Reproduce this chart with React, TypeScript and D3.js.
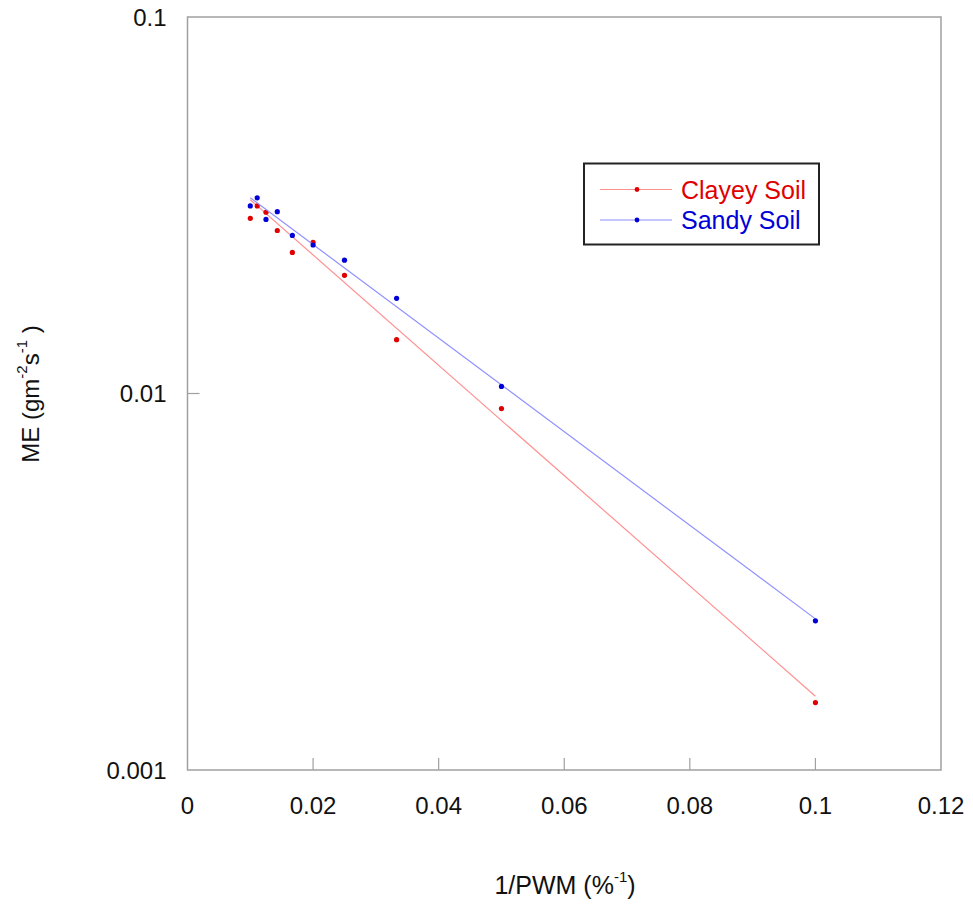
import React from "react";
import * as d3 from "d3";

const pwmInv = [0.01, 0.0111, 0.0125, 0.0143, 0.0167, 0.02, 0.025, 0.0333, 0.05, 0.1];
const clayey = [0.0292, 0.0315, 0.0303, 0.0271, 0.0237, 0.0252, 0.0206, 0.0139, 0.00912, 0.00151];
const sandy = [0.0315, 0.0331, 0.029, 0.0304, 0.0263, 0.0248, 0.0226, 0.0179, 0.01044, 0.00249];
const trendX = [0.01, 0.1];
const clayeyTrend = [0.0327, 0.00157];
const sandyTrend = [0.0331, 0.00252];
const xTicks = [0, 0.02, 0.04, 0.06, 0.08, 0.1, 0.12];
const xTickLabels = ["0", "0.02", "0.04", "0.06", "0.08", "0.1", "0.12"];
const yTicks = [0.001, 0.01, 0.1];
const yTickLabels = ["0.001", "0.01", "0.1"];
const seriesNames = ["Clayey Soil", "Sandy Soil"];

const W = 973, H = 907;
const L = 187.5, R = 941, T = 17, B = 770;
const font = "Arial, 'Liberation Sans', Helvetica, sans-serif";

export default function App() {
  const x = d3.scaleLinear().domain([0, 0.12]).range([L, R]);
  const y = d3.scaleLog().domain([0.001, 0.1]).range([B, T]);
  const line = d3.line<[number, number]>().x(d => x(d[0])).y(d => y(d[1]));
  const series = [
    { name: seriesNames[0], vals: clayey, trend: clayeyTrend, dot: "#e00000", ln: "#ff9090" },
    { name: seriesNames[1], vals: sandy, trend: sandyTrend, dot: "#0000d8", ln: "#9090ff" },
  ];
  const axisColor = "#a0a0a0";
  return (
    <svg width={W} height={H} style={{ position: "absolute", left: 0, top: 0, background: "#fff" }} fontFamily={font}>
      <rect x={L} y={T} width={R - L} height={B - T} fill="none" stroke={axisColor} strokeWidth={1.5} />
      {xTicks.map((t, i) => (
        <g key={"xt" + i}>
          {i > 0 && i < xTicks.length - 1 && (
            <line x1={x(t)} x2={x(t)} y1={B} y2={B - 12} stroke={axisColor} strokeWidth={1.2} />
          )}
          <text x={x(t)} y={805} textAnchor="middle" dominantBaseline="central" fontSize={24} fill="#111">
            {xTickLabels[i]}
          </text>
        </g>
      ))}
      {yTicks.map((t, i) => (
        <g key={"yt" + i}>
          {i > 0 && i < yTicks.length - 1 && (
            <line x1={L} x2={L + 12} y1={y(t)} y2={y(t)} stroke={axisColor} strokeWidth={1.2} />
          )}
          <text x={166.5} y={y(t)} textAnchor="end" dominantBaseline="central" fontSize={24} fill="#111">
            {yTickLabels[i]}
          </text>
        </g>
      ))}
      {series.map((s, si) => (
        <g key={"s" + si}>
          <path
            d={line(trendX.map((v, i) => [v, s.trend[i]] as [number, number])) || ""}
            fill="none"
            stroke={s.ln}
            strokeWidth={1.2}
          />
          {pwmInv.map((v, i) => (
            <circle key={i} cx={x(v)} cy={y(s.vals[i])} r={2.6} fill={s.dot} />
          ))}
        </g>
      ))}
      <rect x={584} y={163.5} width={235} height={81} fill="#fff" stroke="#222" strokeWidth={2} />
      {series.map((s, si) => {
        const ly = 189.5 + si * 30.5;
        return (
          <g key={"lg" + si}>
            <line x1={600} x2={672} y1={ly} y2={ly} stroke={s.ln} strokeWidth={1.2} />
            <circle cx={637} cy={ly} r={2.4} fill={s.dot} />
            <text x={681} y={ly} dominantBaseline="central" fontSize={25} fill={s.dot}>
              {s.name}
            </text>
          </g>
        );
      })}
      <text x={565} y={885} textAnchor="middle" dominantBaseline="central" fontSize={25} fill="#111">
        1/PWM (%
        <tspan fontSize={15} baselineShift="60%">-1</tspan>)
      </text>
      <text
        transform="translate(30,394) rotate(-90)"
        textAnchor="middle"
        dominantBaseline="central"
        fontSize={24}
        fill="#111"
      >
        ME (gm<tspan fontSize={15} baselineShift="60%">-2</tspan>s<tspan fontSize={15} baselineShift="60%">-1</tspan> )
      </text>
    </svg>
  );
}
